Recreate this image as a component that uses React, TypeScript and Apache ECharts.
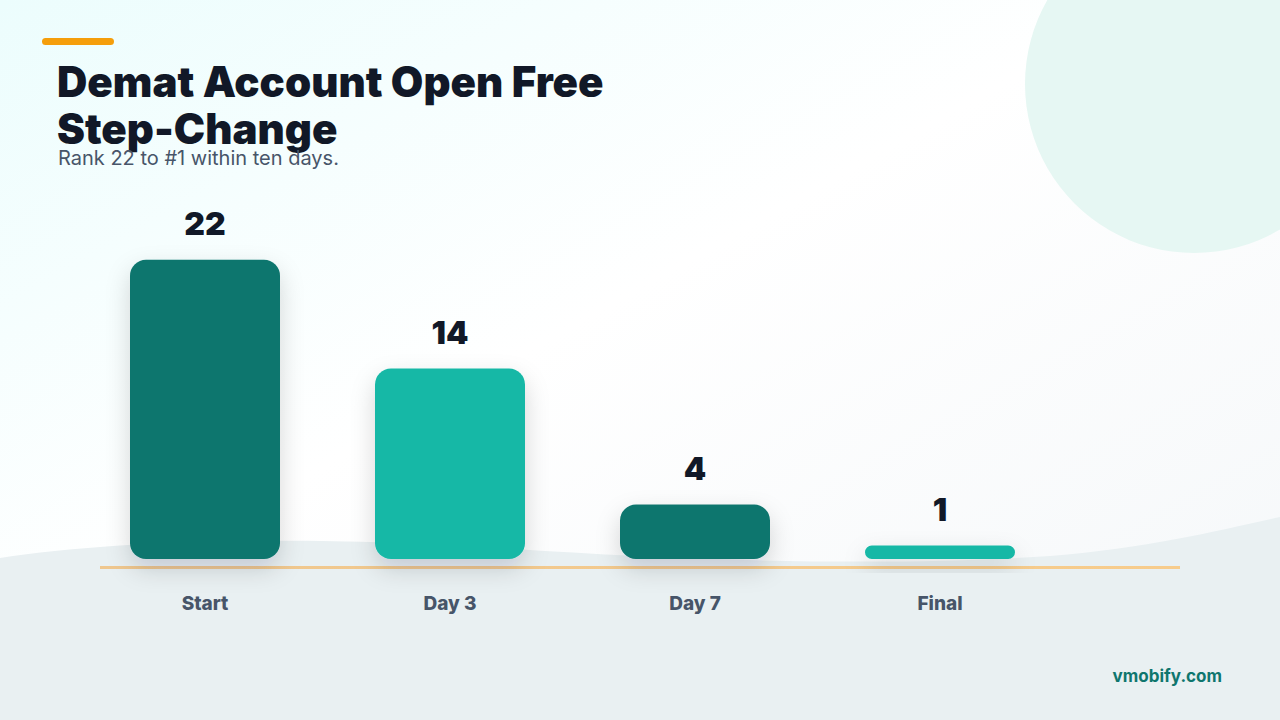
import React, { useEffect, useRef } from "react";
import * as echarts from "echarts";

const categories = ["Start", "Day 3", "Day 7", "Final"];
const ranks = [22, 14, 4, 1];
const barColors = ["#0f766e", "#17b8a6", "#0f766e", "#17b8a6"];
const titleLines = ["Demat Account Open Free", "Step-Change"];
const subtitle = "Rank 22 to #1 within ten days.";
const watermark = "vmobify.com";

echarts.graphic.registerShape(
  "wave",
  echarts.graphic.extendPath(
    "M0,558 C120,540 300,535 500,548 C700,562 900,566 1050,556 C1150,548 1220,530 1280,517 L1280,720 L0,720 Z",
    {}
  )
);

export default function App() {
  const ref = useRef<HTMLDivElement>(null);
  useEffect(() => {
    const chart = echarts.init(ref.current!, null, { renderer: "svg" });
    const font = "Inter, 'Noto Sans', sans-serif";
    chart.setOption({
      animation: false,
      backgroundColor: {
        type: "linear",
        x: 0,
        y: 0,
        x2: 1,
        y2: 1,
        colorStops: [
          { offset: 0, color: "#ecfdfd" },
          { offset: 0.45, color: "#ffffff" },
          { offset: 1, color: "#f4f7f9" },
        ],
      },
      graphic: [
        {
          type: "circle",
          z: -10,
          shape: { cx: 1194, cy: 84, r: 169 },
          style: { fill: "#e6f7f3" },
          silent: true,
        },
        {
          type: "wave",
          z: -10,
          x: 0,
          y: 0,
          style: { fill: "#e9f0f2" },
          silent: true,
        },
        {
          type: "rect",
          shape: { x: 42, y: 38, width: 72, height: 7, r: 3.5 },
          style: { fill: "#f59e0b" },
        },
        {
          type: "text",
          x: 57,
          y: 81,
          style: {
            text: titleLines[0],
            fontSize: 42,
            fontWeight: 900,
            fontFamily: font,
            fill: "#111827",
            verticalAlign: "middle",
          },
        },
        {
          type: "text",
          x: 57,
          y: 128,
          style: {
            text: titleLines[1],
            fontSize: 42,
            fontWeight: 900,
            fontFamily: font,
            fill: "#111827",
            verticalAlign: "middle",
          },
        },
        {
          type: "text",
          x: 58,
          y: 158,
          style: {
            text: subtitle,
            fontSize: 20,
            fontWeight: 400,
            fontFamily: font,
            fill: "#475569",
            verticalAlign: "middle",
          },
        },
        {
          type: "rect",
          z: 1,
          shape: { x: 100, y: 566, width: 1080, height: 3 },
          style: {
            fill: {
              type: "linear",
              x: 0,
              y: 0,
              x2: 1,
              y2: 0,
              colorStops: [
                { offset: 0, color: "#efc78f" },
                { offset: 1, color: "#f7cc8c" },
              ],
            },
          },
        },
        {
          type: "text",
          x: 1222,
          y: 676,
          style: {
            text: watermark,
            fontSize: 17,
            fontWeight: 700,
            fontFamily: font,
            fill: "#0f766e",
            align: "right",
            verticalAlign: "middle",
          },
        },
      ],
      grid: { left: 82.5, width: 980, top: 151, height: 408 },
      xAxis: {
        type: "category",
        data: categories,
        axisLine: { show: false },
        axisTick: { show: false },
        axisLabel: {
          margin: 35,
          fontSize: 19,
          fontWeight: 800,
          fontFamily: font,
          color: "#475569",
        },
      },
      yAxis: {
        type: "value",
        min: 0,
        max: 30,
        show: false,
        splitLine: { show: false },
      },
      series: [
        {
          type: "bar",
          barWidth: 150,
          data: ranks.map((v, i) => ({
            value: v,
            itemStyle: { color: barColors[i] },
          })),
          itemStyle: {
            borderRadius: 16,
            shadowBlur: 24,
            shadowColor: "rgba(15, 23, 42, 0.16)",
            shadowOffsetY: 10,
          },
          label: {
            show: true,
            position: "top",
            distance: 20,
            fontSize: 32,
            fontWeight: 900,
            fontFamily: font,
            color: "#111827",
          },
        },
      ],
    });
    return () => chart.dispose();
  }, []);
  return (
    <div
      ref={ref}
      style={{ position: "fixed", left: 0, top: 0, width: 1280, height: 720 }}
    />
  );
}
